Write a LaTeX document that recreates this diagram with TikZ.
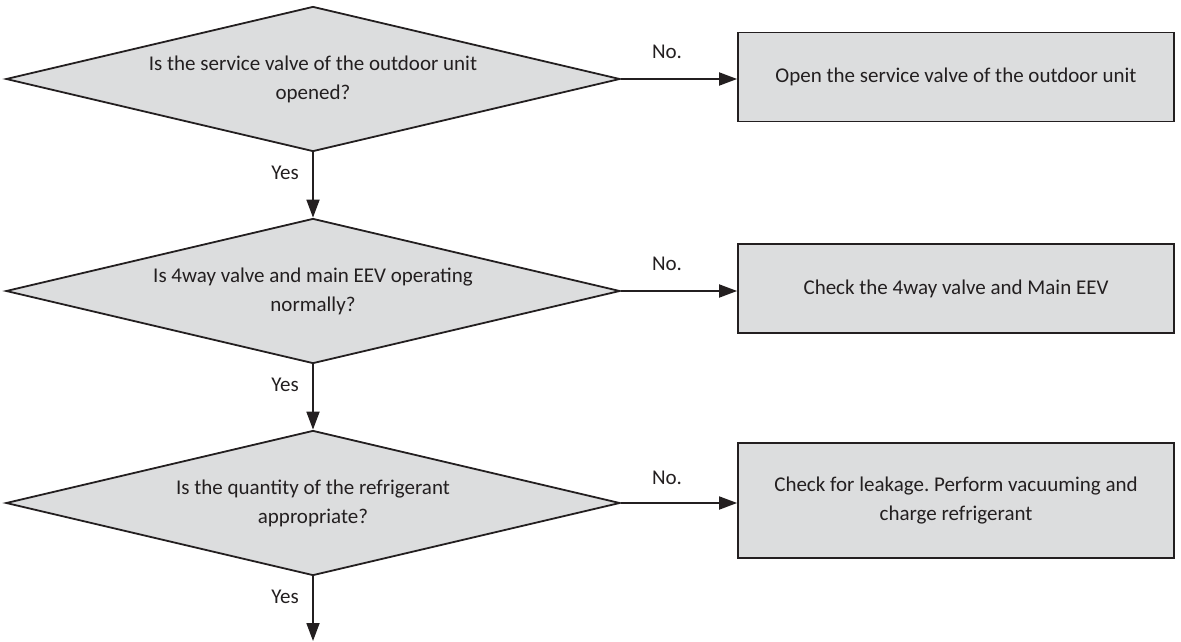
\documentclass[tikz,border=0pt]{standalone}
\usepackage{fontspec}
\setmainfont{Carlito}
\frenchspacing
\usetikzlibrary{shapes.geometric,arrows.meta}
\definecolor{ink}{HTML}{231F20}
\definecolor{boxgray}{HTML}{DCDDDE}
\begin{document}
\begin{tikzpicture}[x=1pt,y=-1pt,
  txt/.style={font=\fontsize{21}{29}\selectfont},
  decision/.style={diamond,shape aspect=4.234,draw=ink,line width=1.8pt,fill=boxgray,minimum width=614pt,minimum height=145pt,inner sep=0pt,align=center,text=ink,txt},
  action/.style={rectangle,draw=ink,line width=1.8pt,fill=boxgray,minimum width=436pt,inner sep=0pt,align=center,text=ink,txt},
  flow/.style={draw=ink,line width=1.8pt,-{Triangle[length=18pt,width=13pt]}},
  lbl/.style={text=ink,txt,inner sep=0pt}]
\useasboundingbox (0,0) rectangle (1181,642);
\node[decision] (d1) at (313,79) {Is the service valve of the outdoor unit\\opened?};
\node[decision] (d2) at (313,291) {Is 4way valve and main EEV operating\\normally?};
\node[decision] (d3) at (313,503) {Is the quantity of the refrigerant\\appropriate?};
\node[action,minimum height=89pt] (b1) at (956,77) {Open the service valve of the outdoor unit};
\node[action,minimum height=89pt] (b2) at (956,288.5) {Check the 4way valve and Main EEV};
\node[action,minimum height=115pt] (b3) at (956,500.5) {Check for leakage. Perform vacuuming and\\charge refrigerant};
\coordinate (end) at (313,641);
\draw[flow] (d1.east) -- (d1.east -| b1.west);
\draw[flow] (d2.east) -- (d2.east -| b2.west);
\draw[flow] (d3.east) -- (d3.east -| b3.west);
\draw[flow] (d1.south) -- (d2.north);
\draw[flow] (d2.south) -- (d3.north);
\draw[flow] (d3.south) -- (end);
\node[lbl] (n1) at (667,52) {No.};
\node[lbl] (n2) at (667,264) {No.};
\node[lbl] (n3) at (667,478) {No.};
\node[lbl] (y1) at (285,173) {Yes};
\node[lbl] (y2) at (285,385) {Yes};
\node[lbl] (y3) at (285,597) {Yes};
\end{tikzpicture}
\end{document}
